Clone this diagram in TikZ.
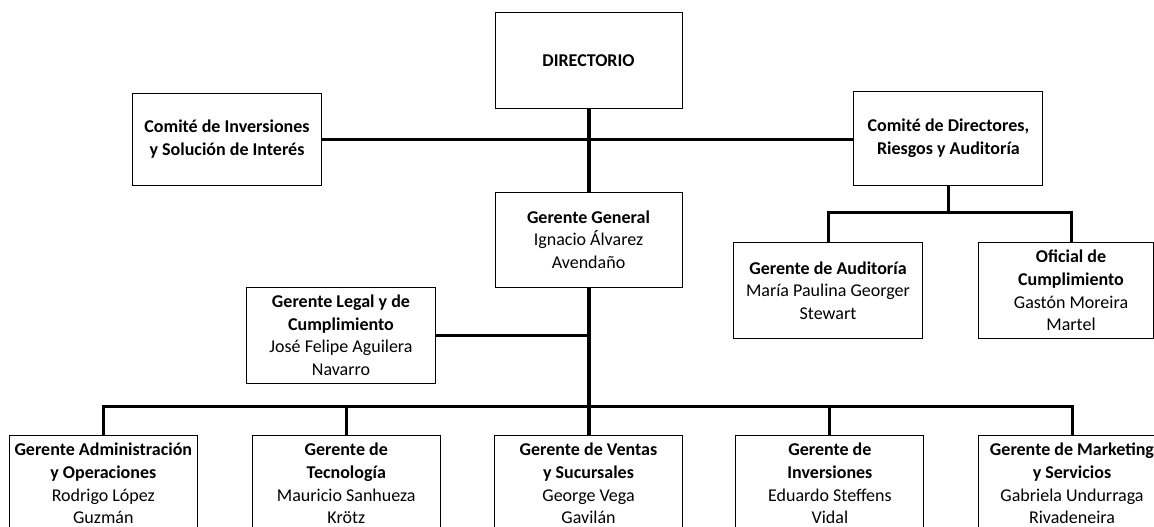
\documentclass[tikz,border=0pt]{standalone}
\usepackage{fontspec}
\setmainfont{Carlito}
\begin{document}
\begin{tikzpicture}[x=1pt,y=-1pt,
  box/.style={draw=black,line width=1pt,align=center,inner sep=0pt,
    font=\fontsize{18}{22.7}\selectfont},
  wbox/.style={box,minimum width=188pt,minimum height=96pt},
  mainline/.style={line width=4pt},
  branch/.style={line width=3pt}]
\useasboundingbox (0,0) rectangle (1154,527);
% top level
\node[box,minimum width=187pt,minimum height=95.6pt] (dir) at (588.5,60.5) {\textbf{DIRECTORIO}};
\node[box,minimum width=189pt,minimum height=92pt] (ci) at (227,139) {\textbf{Comité de Inversiones}\\\textbf{y Solución de Interés}};
\node[box,minimum width=189pt,minimum height=94pt] (cd) at (948.4,138) {\textbf{Comité de Directores,}\\\textbf{Riesgos y Auditoría}};
\node[box,minimum width=187pt,minimum height=95.3pt] (gg) at (588.5,239.7) {\textbf{Gerente General}\\Ignacio Álvarez\\Avendaño};
\node[box,minimum width=189pt,minimum height=96pt] (legal) at (341,335.3) {\textbf{Gerente Legal y de}\\\textbf{Cumplimiento}\\José Felipe Aguilera\\Navarro};
\node[box,minimum width=189pt,minimum height=95.6pt] (ga) at (828,290.5) {\textbf{Gerente de Auditoría}\\María Paulina Georger\\Stewart};
\node[box,minimum width=175pt,minimum height=95.6pt] (of) at (1065.5,290.5) {\hspace*{11pt}\textbf{Oficial de}\\\hspace*{11pt}\textbf{Cumplimiento}\\\hspace*{11pt}Gastón Moreira\\\hspace*{11pt}Martel};
% bottom row
\node[wbox] (b1) at (103.3,483.5) {\textbf{Gerente Administración}\\\textbf{y Operaciones}\\Rodrigo López\\Guzmán};
\node[wbox] (b2) at (346.3,483.5) {\textbf{Gerente de}\\\textbf{Tecnología}\\Mauricio Sanhueza\\Krötz};
\node[wbox] (b3) at (588.5,483.5) {\textbf{Gerente de Ventas}\\\textbf{y Sucursales}\\George Vega\\Gavilán};
\node[wbox] (b4) at (829.9,483.5) {\textbf{Gerente de}\\\textbf{Inversiones}\\Eduardo Steffens\\Vidal};
\node[wbox] (b5) at (1072,483.5) {\textbf{Gerente de Marketing}\\\textbf{y Servicios}\\Gabriela Undurraga\\Rivadeneira};
% connectors
\coordinate (bus) at (588.5,406.5);
\coordinate (cdj) at (948.4,212.7);
\coordinate (ofc) at (1071,242.7);
\draw[branch] (ci.east) -- (ci.east -| cd.west);
\draw[mainline] (dir.south) -- (gg.north);
\draw[branch] (legal.east) -- (legal.east -| gg.south);
\draw[branch] (b1.north) |- (bus) -| (b5.north);
\draw[branch] (b2.north) -- (b2.north |- bus);
\draw[branch] (b4.north) -- (b4.north |- bus);
\draw[mainline] (gg.south) -- (b3.north);
\draw[branch] (cd.south) -- (cdj);
\draw[branch] (ga.north) |- (cdj) -| (ofc);
\end{tikzpicture}
\end{document}
